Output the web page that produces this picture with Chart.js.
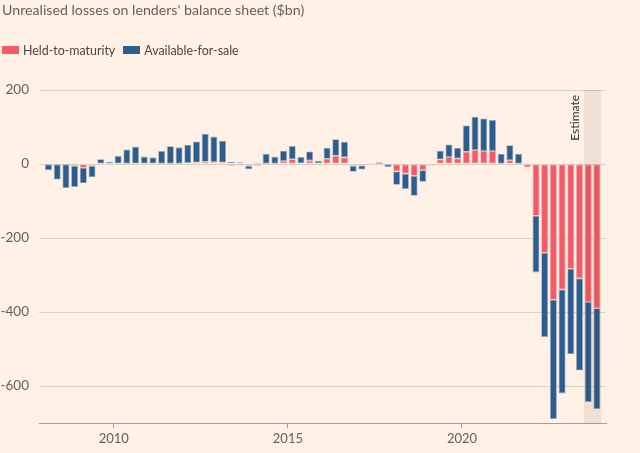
<!DOCTYPE html>
<html>
<head>
<meta charset="utf-8">
<script src="https://cdn.jsdelivr.net/npm/chart.js@4/dist/chart.umd.min.js"></script>
<style>
  html, body { margin: 0; padding: 0; background: #fff1e5; }
  #wrap { position: relative; width: 640px; height: 453px; background: #fff1e5; }
  #chart { position: absolute; left: 0; top: 0; }
  #title { position: absolute; left: 2px; top: 1px; font-family: Lato, sans-serif; font-size: 14.2px; color: #66605c; white-space: nowrap; }
  #legend { position: absolute; left: 2px; top: 42px; height: 16px; font-family: Lato, sans-serif; font-size: 12.4px; color: #4a4541; white-space: nowrap; display: flex; align-items: center; }
  .sw { display: inline-block; width: 17px; height: 8px; margin-right: 4px; }
  .item { display: inline-flex; align-items: center; margin-right: 8px; }
</style>
</head>
<body>
<div id="wrap">
  <canvas id="chart" width="640" height="453"></canvas>
  <div id="title">Unrealised losses on lenders' balance sheet ($bn)</div>
  <div id="legend"></div>
</div>
<script>
// ---- Data ($bn) ----
const quarters = [
  '2008Q1','2008Q2','2008Q3','2008Q4','2009Q1','2009Q2','2009Q3','2009Q4',
  '2010Q1','2010Q2','2010Q3','2010Q4','2011Q1','2011Q2','2011Q3','2011Q4',
  '2012Q1','2012Q2','2012Q3','2012Q4','2013Q1','2013Q2','2013Q3','2013Q4',
  '2014Q1','2014Q2','2014Q3','2014Q4','2015Q1','2015Q2','2015Q3','2015Q4',
  '2016Q1','2016Q2','2016Q3','2016Q4','2017Q1','2017Q2','2017Q3','2017Q4',
  '2018Q1','2018Q2','2018Q3','2018Q4','2019Q1','2019Q2','2019Q3','2019Q4',
  '2020Q1','2020Q2','2020Q3','2020Q4','2021Q1','2021Q2','2021Q3','2021Q4',
  '2022Q1','2022Q2','2022Q3','2022Q4','2023Q1','2023Q2','2023Q3','2023Q4'
];
const heldToMaturity = [
  -1, -1, -1, -5, -10, -5, 0, 0,
  0, 1, -3, 0, 0, 1, 1, 1,
  3, 4, 6, 5, 4, -5, -4, -5,
  -5, 1, 1, 8, 13, 2, 9, 2,
  14, 22, 18, -5, -4, 0, 1, -1,
  -20, -26, -32, -17, -3, 12, 19, 15,
  33, 38, 35, 35, 1, 10, 1, -9,
  -140, -240, -367, -339, -283, -309, -373, -390
];
const availableForSale = [
  -16, -41, -64, -57, -42, -31, 13, 6,
  22, 38, 47, 20, 18, 34, 47, 44,
  49, 57, 76, 69, 59, 6, 5, -9,
  4, 27, 19, 28, 36, 17, 25, 7,
  30, 45, 42, -16, -11, 2, 4, -7,
  -36, -42, -54, -31, -1, 24, 34, 29,
  71, 90, 88, 84, 27, 41, 27, 0,
  -153, -228, -322, -281, -231, -249, -270, -272
];
const seriesNames = ['Held-to-maturity', 'Available-for-sale'];
const seriesColors = ['#f45b68', '#2d5d8e'];
const seriesBorders = ['#f8a2a8', '#93aac4'];
const xTickYears = [2010, 2015, 2020];
const yTickValues = [-600, -400, -200, 0, 200];
const estimateQuarters = ['2023Q3', '2023Q4'];
const estimateLabel = 'Estimate';

// quarter label -> decimal year at middle of quarter
function qMid(label) {
  const y = +label.slice(0, 4), q = +label.slice(5);
  return y + (q - 1) / 4 + 0.125;
}

// legend (HTML)
const legendEl = document.getElementById('legend');
seriesNames.forEach((n, i) => {
  const it = document.createElement('span');
  it.className = 'item';
  it.innerHTML = '<span class="sw" style="background:' + seriesColors[i] + '"></span>' + n;
  legendEl.appendChild(it);
});

const estimatePlugin = {
  id: 'estimate',
  afterDatasetsDraw(chart) {
    const { ctx, chartArea, scales } = chart;
    const xs = scales.x;
    const x0 = xs.getPixelForValue(qMid(estimateQuarters[0]) - 0.125);
    const x1 = xs.getPixelForValue(qMid(estimateQuarters[estimateQuarters.length - 1]) + 0.125);
    ctx.save();
    ctx.fillStyle = 'rgba(80,50,30,0.09)';
    ctx.fillRect(x0, chartArea.top, x1 - x0, chartArea.bottom - chartArea.top);
    ctx.translate(x0 - 8.5, chartArea.top + 5);
    ctx.rotate(-Math.PI / 2);
    ctx.font = '12px Lato';
    ctx.fillStyle = '#33302e';
    ctx.textAlign = 'right';
    ctx.textBaseline = 'middle';
    ctx.fillText(estimateLabel, 0, 0);
    ctx.restore();
  }
};

const mk = (arr) => quarters.map((q, i) => ({ x: qMid(q), y: arr[i] }));

new Chart(document.getElementById('chart'), {
  type: 'bar',
  data: {
    datasets: [
      { label: seriesNames[0], data: mk(heldToMaturity), backgroundColor: seriesColors[0], borderColor: seriesBorders[0] },
      { label: seriesNames[1], data: mk(availableForSale), backgroundColor: seriesColors[1], borderColor: seriesBorders[1] }
    ]
  },
  options: {
    responsive: false,
    animation: false,
    devicePixelRatio: 1,
    layout: { padding: { top: 90, right: 34, left: 0, bottom: 0 } },
    datasets: {
      bar: {
        borderWidth: 0.8,
        borderSkipped: false,
        categoryPercentage: 0.8,
        barPercentage: 1.0
      }
    },
    plugins: {
      legend: { display: false },
      title: { display: false },
      tooltip: { enabled: false }
    },
    scales: {
      x: {
        type: 'linear',
        stacked: true,
        min: 2007.852,
        max: 2024.136,
        offset: false,
        grid: { offset: false, drawOnChartArea: false, drawTicks: true, tickLength: 5, color: '#a69d95' },
        border: { display: true, color: '#a69d95', width: 1 },
        ticks: {
          font: { family: 'Lato', size: 13 },
          color: '#66605c',
          padding: 3,
          maxRotation: 0,
          autoSkip: false,
          callback: (v) => String(v)
        },
        afterBuildTicks: (s) => { s.ticks = xTickYears.map(v => ({ value: v })); },
        afterFit: (s) => { s.height = 30; }
      },
      y: {
        stacked: true,
        min: -700,
        max: 200,
        grid: { color: '#ddd1c5', drawTicks: false, lineWidth: 1 },
        border: { display: false },
        ticks: {
          font: { family: 'Lato', size: 13.5 },
          color: '#66605c',
          padding: 10,
          callback: (v) => String(v)
        },
        afterBuildTicks: (s) => { s.ticks = yTickValues.map(v => ({ value: v })); },
        afterFit: (s) => { s.width = 39; }
      }
    }
  },
  plugins: [estimatePlugin]
});
</script>
</body>
</html>
